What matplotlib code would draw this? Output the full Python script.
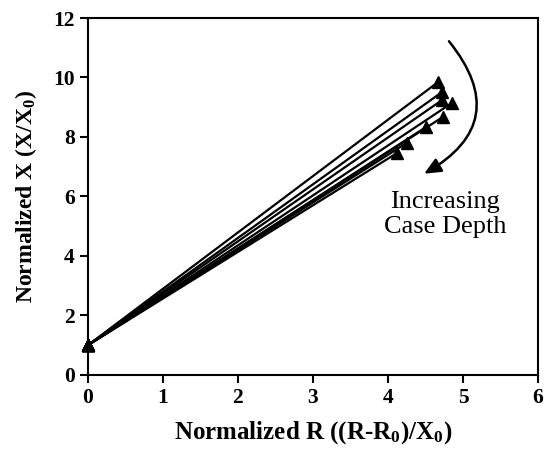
import matplotlib.pyplot as plt

plt.rcParams['font.family'] = 'Liberation Serif'
plt.rcParams['font.weight'] = 'bold'
plt.rcParams['mathtext.fontset'] = 'custom'
plt.rcParams['mathtext.rm'] = 'Liberation Serif:bold'
plt.rcParams['mathtext.bf'] = 'Liberation Serif:bold'
plt.rcParams['mathtext.it'] = 'Liberation Serif:bold'

# start point shared by all curves (R, X normalized)
r_start = 0.0
x_start = 1.0
# end points, one per case depth
r_end = [4.67, 4.72, 4.72, 4.85, 4.73, 4.51, 4.25, 4.12]
x_end = [9.85, 9.51, 9.24, 9.14, 8.67, 8.34, 7.80, 7.46]

fig = plt.figure(figsize=(5.49, 4.5), dpi=100)
ax = fig.add_axes([0.160, 0.1667, 0.820, 0.7933])

for r, x in zip(r_end, x_end):
    ax.plot([r_start, r], [x_start, x], color='black', lw=1.6,
            marker='^', markersize=8.5, clip_on=False)

ax.set_xlim(0, 6)
ax.set_ylim(0, 12)
ax.set_xticks(range(0, 7))
ax.set_yticks(range(0, 13, 2))
ax.tick_params(direction='out', length=6, width=1.5, labelsize=15.5)
for s in ax.spines.values():
    s.set_linewidth(1.5)

ax.set_xlabel(r'Normalized R ((R-R$_0$)/X$_0$)', fontsize=18, fontweight='bold', labelpad=8)
ax.set_ylabel(r'Normalized X (X/X$_0$)', fontsize=17, fontweight='bold', labelpad=10)

ax.annotate('', xy=(4.45, 6.72), xytext=(4.79, 11.29),
            arrowprops=dict(arrowstyle='-|>,head_length=1.0,head_width=0.45',
                            color='black', lw=1.8,
                            connectionstyle='arc3,rad=-0.6'))
ax.text(4.76, 5.4, 'Increasing\nCase Depth', ha='center', va='center',
        fontsize=19, fontweight='normal', linespacing=1.2)

fig.savefig('out.png', dpi=100)
